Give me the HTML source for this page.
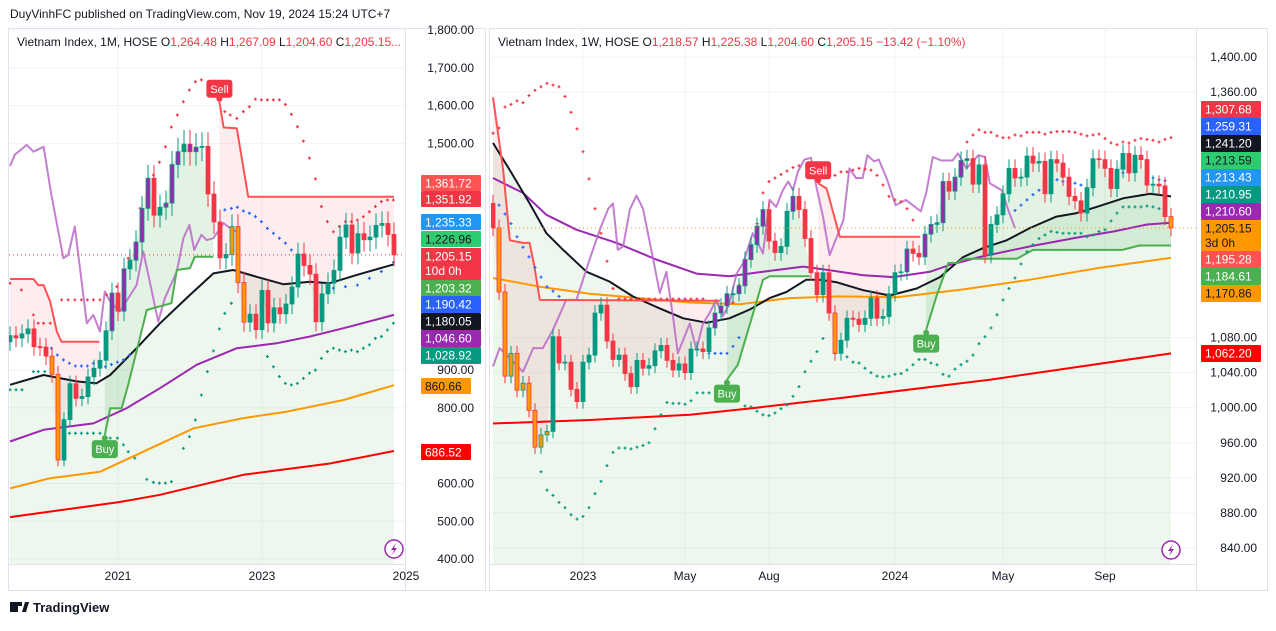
<!DOCTYPE html>
<html><head><meta charset="utf-8">
<style>
html,body{margin:0;padding:0;background:#fff;}
body{width:1276px;height:626px;overflow:hidden;font-family:"Liberation Sans",sans-serif;}
svg text{font-family:"Liberation Sans",sans-serif;}
</style></head>
<body>
<svg id="c" width="1276" height="626" viewBox="0 0 1276 626" xmlns="http://www.w3.org/2000/svg">
<defs>
<clipPath id="clipL"><rect x="9" y="29" width="396" height="535"/></clipPath>
<clipPath id="clipR"><rect x="491" y="29" width="705" height="535"/></clipPath>
</defs>
<rect x="0" y="0" width="1276" height="626" fill="#fff"/>
<text x="10" y="18" font-size="12" fill="#131722">DuyVinhFC published on TradingView.com, Nov 19, 2024 15:24 UTC+7</text>
<rect x="8.5" y="28.5" width="477" height="562" fill="none" stroke="#e0e3eb"/>
<rect x="489.5" y="28.5" width="778" height="562" fill="none" stroke="#e0e3eb"/>
<line x1="405.5" y1="29" x2="405.5" y2="590" stroke="#e0e3eb"/>
<line x1="1196.5" y1="29" x2="1196.5" y2="590" stroke="#e0e3eb"/>
<line x1="9" y1="564.5" x2="405" y2="564.5" stroke="#e0e3eb"/>
<line x1="490" y1="564.5" x2="1196" y2="564.5" stroke="#e0e3eb"/>
<g id="gL" clip-path="url(#clipL)"></g>
<g id="gR" clip-path="url(#clipR)"></g>
<g id="axes"></g>
<text x="17" y="46" font-size="12" fill="#131722">Vietnam Index, 1M, HOSE <tspan fill="#131722">O</tspan><tspan fill="#f23645">1,264.48</tspan> <tspan>H</tspan><tspan fill="#f23645">1,267.09</tspan> <tspan>L</tspan><tspan fill="#f23645">1,204.60</tspan> <tspan>C</tspan><tspan fill="#f23645">1,205.15...</tspan></text>
<text x="498" y="46" font-size="12" fill="#131722">Vietnam Index, 1W, HOSE <tspan>O</tspan><tspan fill="#f23645">1,218.57</tspan> <tspan>H</tspan><tspan fill="#f23645">1,225.38</tspan> <tspan>L</tspan><tspan fill="#f23645">1,204.60</tspan> <tspan>C</tspan><tspan fill="#f23645">1,205.15 −13.42 (−1.10%)</tspan></text>
<g>
<rect x="10" y="602" width="8" height="10" fill="#131722"/><rect x="18" y="602" width="4" height="4" fill="#131722"/><polygon points="22,612 25,602 29,602 26,612" fill="#131722"/>
<text x="33" y="612" font-size="13" font-weight="bold" fill="#131722">TradingView</text>
</g>
</svg>
<script>
// ===== LEFT (monthly) data =====
const leftFirstOpen = 975;
const leftCloses = [991,985,996,1009,962,961,937,889,662,769,864,825,830,882,905,926,1004,1104,1056,1168,1191,1239,1328,1408,1310,1331,1342,1444,1478,1498,1478,1490,1492,1366,1292,1197,1206,1280,1132,1027,1048,1007,1111,1025,1065,1049,1075,1120,1207,1177,1154,1028,1102,1130,1164,1252,1284,1210,1261,1245,1252,1283,1288,1259,1205];
const leftCodes = ".......oo........p.p.ppp..ppp.pp.....ooo.........................";
const leftTicks = [1800,1700,1600,1500,900,800,600,500,400];
const leftTickLabels = ["1,800.00","1,700.00","1,600.00","1,500.00","900.00","800.00","600.00","500.00","400.00"];
const leftTimeIdx = [18,42,66];
const leftTimeLabels = ["2021","2023","2025"];
const leftBlack = [[0,861],[5.6,887],[11.1,870],[14.4,865],[16.7,887],[21.1,958],[25,1024],[30,1099],[33.9,1156],[37.2,1165],[41.1,1147],[45.6,1127],[50,1134],[53.3,1130],[57.8,1152],[64,1180]];
const leftPurple = [[0,711],[5.6,742],[13.9,759],[19.4,799],[25,852],[31.1,914],[37.8,958],[44.4,971],[50,989],[55.6,1011],[64,1046]];
const leftOrange = [[0,587],[6.7,614],[15,631],[22.2,684],[30.6,746],[38.9,773],[46.1,790],[55.6,821],[64,860]];
const leftRed = [[0,511],[18.3,551],[25,570],[38.9,623],[53.3,653],[64,686]];
const leftLilac = [[0,1440],[0.8,1470],[2.8,1496],[3.9,1478],[5.6,1491],[6.9,1363],[8.9,1196],[9.7,1205],[10.8,1280],[12.8,1024],[13.9,1046],[15,1002],[15.8,1108],[16.7,1081],[18.3,1055],[21.1,1125],[22.2,1214],[23.3,1134],[24.7,1028],[25.8,1090],[27.8,1161],[28.9,1249],[29.9,1284],[30.7,1218],[31.9,1258],[32.8,1244],[33.9,1249],[35.6,1289],[36.7,1275],[37.8,1266]];
const leftStopRed1 = [[0,1141],[3.9,1141],[4.7,1125],[5.6,1125],[6.7,1081],[7.8,1002],[8.6,975],[14.9,975]];
const leftStopGreen1 = [[15.8,728],[16.7,799],[18.6,799],[19.7,861],[22.8,1059],[26.9,1077],[27.8,1165],[30,1170],[30.8,1200],[33.9,1200]];
const leftStopRed2 = [[34.9,1610],[35.6,1542],[37.8,1540],[39.7,1359],[64,1359]];
const leftSarUp = [[0,1130],[1.9,1112],[3.9,1046],[4.7,1024],[5.6,1024],[6.7,1024],[8.6,1086],[9.7,1086],[10.8,1086],[11.9,1086],[12.9,1086],[13.9,1086],[15,1086],[16.1,1099],[17.8,1121],[19.7,1196],[21.7,1328],[23.9,1416],[24.9,1450],[25.9,1491],[26.9,1543],[27.9,1575],[28.9,1610],[29.9,1641],[30.9,1663],[31.9,1668],[35.8,1584],[36.7,1575],[37.8,1566],[38.9,1584],[39.9,1597],[40.9,1617],[41.9,1615],[42.9,1615],[43.9,1615],[44.9,1615],[45.9,1603],[46.9,1577],[47.9,1544],[48.9,1506],[49.9,1461],[50.9,1406],[51.9,1333],[52.9,1293],[53.9,1266],[54.9,1280],[55.9,1293],[56.9,1293],[57.9,1297],[58.9,1306],[59.9,1319],[60.9,1333],[61.9,1346],[62.9,1350],[63.9,1350]];
const leftSarDown = [[0,848],[1,848],[2,848],[3.9,896],[4.7,896],[5.8,896],[9.9,733],[10.9,733],[11.9,733],[12.9,733],[13.9,733],[15,733],[16.7,720],[17.9,720],[18.9,702],[19.7,684],[20.8,667],[22.8,611],[23.9,603],[24.9,601],[25.9,601],[26.9,605],[28.9,693],[29.9,724],[30.9,768],[31.9,834],[32.9,896],[33.9,951],[34.9,1009],[35.8,1050],[36.9,1077],[42.9,936],[43.9,909],[44.9,883],[45.9,865],[46.9,861],[47.9,865],[48.9,878],[49.9,892],[50.9,900],[51.9,931],[52.9,949],[53.9,958],[54.9,953],[55.9,949],[56.9,953],[57.9,949],[58.9,958],[59.9,967],[60.9,984],[61.9,989],[62.9,1006],[63.9,1024]];
const leftSarBlue = [[6.9,958],[7.9,940],[8.9,927],[9.9,918],[10.9,911],[11.9,911],[12.9,911],[13.9,918],[14.9,909],[15.9,909],[16.9,915],[17.9,921],[18.9,927],[19.9,940],[35.8,1324],[36.9,1328],[37.9,1331],[38.9,1321],[39.9,1315],[40.9,1306],[41.9,1293],[42.9,1275],[43.9,1262],[44.9,1249],[45.9,1236],[46.9,1218],[53.9,1117],[55.9,1121],[57.9,1125],[59.9,1143],[61.9,1161],[63.9,1185]];

// ===== RIGHT (weekly) data =====
const rightFirstOpen = 1233;
const rightCloses = [1205,1132,1036,1062,1020,1028,997,955,969,973,1081,1051,1052,1021,1007,1052,1060,1108,1117,1076,1055,1060,1039,1024,1054,1045,1048,1065,1071,1054,1043,1050,1040,1067,1067,1064,1091,1108,1116,1130,1130,1139,1169,1186,1207,1226,1190,1177,1184,1224,1241,1226,1193,1154,1129,1154,1108,1062,1077,1102,1101,1095,1102,1125,1102,1104,1130,1154,1155,1181,1176,1172,1198,1209,1211,1258,1247,1263,1282,1284,1255,1277,1174,1209,1220,1244,1273,1262,1263,1287,1279,1281,1244,1283,1279,1263,1241,1236,1222,1251,1284,1283,1273,1250,1272,1290,1268,1288,1283,1254,1255,1253,1218,1205];
const rightCodes = ".ooooooooo...........................ppppppppp....p......o...........p..pp.p.ppp.................................o";
const rightTicks = [1400,1360,1080,1040,1000,960,920,880,840];
const rightTickLabels = ["1,400.00","1,360.00","1,080.00","1,040.00","1,000.00","960.00","920.00","880.00","840.00"];
const rightTimeIdx = [15,32,46,67,85,102];
const rightTimeLabels = ["2023","May","Aug","2024","May","Sep"];
const rightBlack = [[0,1302],[2.8,1271],[6.1,1233],[8.9,1199],[11.7,1180],[15.6,1155],[19.4,1144],[23.3,1127],[27.2,1115],[31.7,1102],[35.6,1097],[39.4,1102],[42.8,1112],[46.1,1125],[48.9,1132],[52.2,1146],[54.4,1146],[57.3,1143],[61.7,1134],[66.1,1128],[70.6,1136],[74.5,1149],[78.4,1172],[81.7,1182],[85.6,1191],[89.5,1205],[93.9,1218],[97.3,1222],[100.6,1229],[105.1,1239],[109.5,1244],[113,1241]];
const rightPurple = [[0,1262],[5,1245],[8.9,1220],[13.9,1203],[20.6,1188],[27.2,1169],[33.9,1153],[39.4,1150],[45,1155],[51.7,1161],[56,1157],[61.7,1151],[66.7,1149],[72.8,1155],[76.2,1163],[81.2,1172],[89.5,1184],[97.3,1194],[103.4,1201],[109,1209],[113,1211]];
const rightOrange = [[0,1148],[7.8,1138],[16.1,1130],[24.4,1125],[32.8,1120],[41.1,1118],[49.4,1125],[57.8,1127],[67.3,1126],[78.4,1135],[89.5,1146],[100.6,1159],[113,1171]];
const rightRed = [[0,982],[16.1,986],[32.8,992],[43.9,1000],[57.8,1011],[82.8,1032],[113,1062]];
const rightLilac = [[0,1047],[1.1,1068],[5,1041],[6.7,1068],[8.3,1068],[10,1089],[12.2,1123],[13.9,1123],[16.1,1169],[17.8,1203],[19.2,1227],[20,1233],[20.8,1180],[21.7,1184],[22.8,1226],[23.9,1242],[25,1227],[26.7,1169],[27.8,1131],[28.9,1155],[30,1104],[30.8,1062],[32.8,1096],[33.9,1066],[35,1096],[36.1,1108],[37.2,1123],[38.3,1104],[39.4,1119],[40.6,1153],[41.7,1165],[43.3,1199],[45,1176],[46.1,1237],[47.2,1229],[48.3,1248],[49.2,1258],[50,1248],[50.8,1269],[51.9,1283],[53,1285],[53.9,1252],[55,1218],[56.1,1174],[58.4,1214],[59.4,1273],[60.5,1262],[61.6,1262],[62.4,1288],[63.5,1281],[64.3,1283],[65.7,1260],[67.1,1231],[68.8,1237],[71.3,1224],[72.2,1245],[73.3,1286],[74.7,1282],[76.6,1282],[77.5,1290],[78.9,1273],[80.9,1288],[82,1286],[82.8,1256],[84.8,1248],[85.9,1225],[87,1205]];
const rightStopRed1 = [[0,1354],[1.7,1271],[2.8,1191],[5,1188],[6.1,1188],[6.9,1161],[7.8,1123],[37.8,1122]];
const rightStopGreen1 = [[39,1032],[40.8,1049],[42.2,1081],[45,1146],[46.1,1150],[52.8,1150]];
const rightStopRed2 = [[54.2,1256],[55.6,1250],[57.8,1195],[71.2,1195]];
const rightStopGreen2 = [[72.2,1089],[73.9,1127],[75.9,1165],[77.3,1165],[78.4,1170],[87.3,1170],[90,1180],[104.9,1180],[107.7,1185],[113,1185]];
const rightSarUp = [[0,1313],[1,1319],[2,1343],[3,1346],[4,1350],[5,1348],[6,1356],[7,1362],[8,1366],[9,1370],[10,1368],[11,1366],[12,1355],[13,1337],[14,1318],[15,1292],[16,1261],[17,1227],[18,1199],[19,1167],[20,1136],[21,1124],[22,1124],[23,1124],[24,1124],[25,1124],[26,1124],[27,1124],[28,1124],[29,1124],[30,1124],[31,1124],[32,1124],[33,1124],[34,1124],[35,1124],[40,1120],[41,1140],[42,1160],[43,1185],[44,1210],[45,1245],[46,1258],[47,1262],[48,1266],[49,1270],[50,1274],[51,1276],[57,1265],[58,1269],[59,1269],[60,1271],[61,1273],[62,1272],[63,1271],[64,1265],[65,1254],[66,1241],[67,1237],[68,1235],[69,1227],[70,1214],[79,1303],[80,1311],[81,1317],[82,1314],[83,1314],[84,1310],[85,1308],[86,1308],[87,1311],[88,1310],[89,1314],[90,1314],[91,1314],[92,1312],[93,1314],[94,1315],[95,1315],[96,1315],[97,1314],[98,1312],[99,1310],[100,1311],[101,1312],[102,1307],[103,1302],[104,1300],[105,1303],[106,1302],[107,1305],[108,1307],[109,1306],[110,1305],[111,1303],[112,1306],[113,1308]];
const rightSarDown = [[8,927],[9,906],[10,900],[11,892],[12,886],[13,878],[14,873],[15,876],[16,886],[17,902],[18,916],[19,934],[20,949],[21,954],[22,954],[23,953],[24,955],[25,957],[26,960],[27,976],[28,992],[29,1006],[30,1005],[31,1005],[32,1004],[33,1008],[34,1017],[35,1017],[36,1017],[42,1002],[43,1001],[44,996],[45,992],[46,991],[47,994],[48,999],[49,1003],[50,1013],[51,1024],[52,1041],[53,1053],[54,1064],[55,1079],[57,1062],[59,1058],[60,1052],[61,1051],[62,1045],[63,1040],[64,1036],[65,1035],[66,1036],[67,1038],[68,1039],[69,1043],[70,1049],[71,1055],[72,1055],[73,1051],[74,1049],[75,1038],[76,1036],[77,1044],[78,1049],[79,1053],[80,1060],[81,1073],[82,1081],[83,1091],[84,1106],[85,1123],[86,1136],[87,1148],[88,1164],[89,1178],[90,1186],[91,1193],[92,1197],[93,1201],[94,1200],[95,1199],[96,1199],[97,1199],[98,1199],[99,1195],[100,1197],[101,1201],[102,1203],[103,1213],[104,1222],[105,1229],[106,1229],[107,1229],[108,1229],[109,1230],[110,1229],[111,1227],[112,1226]];
const rightSarBlue = [[1,1231],[2,1221],[3,1210],[4,1195],[5,1183],[6,1172],[7,1160],[8,1149],[9,1138],[10,1133],[11,1127],[36,1062],[37,1062],[38,1062],[39,1062],[40,1070],[41,1080],[87,1225],[88,1231],[89,1237],[90,1243],[91,1248],[92,1254],[93,1258],[94,1260],[95,1258],[96,1258],[97,1256],[98,1254],[103,1270],[104,1267],[105,1268],[106,1268],[109,1263],[110,1262],[111,1260],[112,1259]];

// ===== scales =====
const NS = "http://www.w3.org/2000/svg";
const L = {x:i=>10+i*6, y:p=>30+(1800-p)*0.3779, bottom:564};
const R = {x:i=>493+i*6, y:p=>57+(1400-p)*0.8768, bottom:564};
function mk(tag, parent){const e=document.createElementNS(NS,tag);parent.appendChild(e);return e;}
function pts(S, arr){return arr.map(a=>S.x(a[0]).toFixed(1)+","+S.y(a[1]).toFixed(1)).join(" ");}
function closeAt(closes,i){const a=Math.max(0,Math.min(closes.length-1,Math.floor(i))),b=Math.min(closes.length-1,a+1),t=i-a;return closes[a]*(1-t)+closes[b]*t;}

function line(g,S,arr,color,w,name,op){
  const e=mk("polyline",g);
  e.setAttribute("points",pts(S,arr));
  e.setAttribute("fill","none");e.setAttribute("stroke",color);e.setAttribute("stroke-width",w);
  e.setAttribute("stroke-linejoin","round");
  if(op) e.setAttribute("opacity",op);
  
  
}
function bandFill(g,S,arr,closes,color,name){
  const s=arr[0][0], en=arr[arr.length-1][0];
  let p=pts(S,arr);
  const back=[];
  back.push([en,closeAt(closes,en)]);
  for(let i=Math.floor(en);i>=Math.ceil(s);i--) back.push([i,closes[i]]);
  back.push([s,closeAt(closes,s)]);
  const e=mk("polygon",g);
  e.setAttribute("points",p+" "+pts(S,back));
  e.setAttribute("fill",color);
  
  
}
function underFill(g,S,arr,color,name){
  const first=arr[0][0], last=arr[arr.length-1][0];
  const e=mk("polygon",g);
  e.setAttribute("points",pts(S,arr)+" "+S.x(last)+","+S.bottom+" "+S.x(first)+","+S.bottom);
  e.setAttribute("fill",color);
  
  
}
function dots(g,S,arr,color,name){
  const grp=mk("g",g);
  
  
  arr.forEach(a=>{
    const x=S.x(a[0]),y=S.y(a[1]);
    const e=mk("path",grp);
    e.setAttribute("d",`M${x-1.5},${y}h3M${x},${y-1.5}v3`);
    e.setAttribute("stroke",color);e.setAttribute("stroke-width","1.2");
    
    
  });
}
function candles(g,S,closes,firstOpen,codes,wickPct,name){
  const grp=mk("g",g);
  
  
  closes.forEach((c,i)=>{
    const o=i===0?firstOpen:closes[i-1];
    const up=c>=o;
    const hi=Math.max(o,c)*(1+wickPct), lo=Math.min(o,c)*(1-wickPct);
    const col=up?"#089981":"#f23645";
    const code=codes[i];
    const fill=code==="p"?"#9c27b0":code==="o"?"#ff9800":col;
    const x=S.x(i);
    const w=mk("line",grp);
    w.setAttribute("x1",x);w.setAttribute("x2",x);w.setAttribute("y1",S.y(hi));w.setAttribute("y2",S.y(lo));
    w.setAttribute("stroke",col);w.setAttribute("stroke-width","1");
    
    
    const b=mk("rect",grp);
    const y1=S.y(Math.max(o,c)), y2=S.y(Math.min(o,c));
    b.setAttribute("x",x-2);b.setAttribute("width",4);b.setAttribute("y",y1);b.setAttribute("height",Math.max(1,y2-y1));
    b.setAttribute("fill",fill);b.setAttribute("stroke",col);b.setAttribute("stroke-width","0.8");
    
    
  });
}
function grid(g,S,ticks,timeIdx,x0,x1){
  ticks.forEach(t=>{const e=mk("line",g);e.setAttribute("x1",x0);e.setAttribute("x2",x1);e.setAttribute("y1",S.y(t));e.setAttribute("y2",S.y(t));e.setAttribute("stroke","#f0f3fa");
    
    });
  timeIdx.forEach(t=>{const e=mk("line",g);e.setAttribute("x1",S.x(t));e.setAttribute("x2",S.x(t));e.setAttribute("y1",29);e.setAttribute("y2",564);e.setAttribute("stroke","#f0f3fa");
    
    });
}
function signal(g,S,pt,txt,color,above,name){
  const x=S.x(pt[0]),y=S.y(pt[1]);
  const grp=mk("g",g);
  
  
  const ci=mk("circle",grp);ci.setAttribute("cx",x);ci.setAttribute("cy",above?y-3:y+3);ci.setAttribute("r",3);ci.setAttribute("fill",color);
  const ry=above?y-22:y+5;
  const r=mk("rect",grp);r.setAttribute("x",x-13);r.setAttribute("y",ry);r.setAttribute("width",26);r.setAttribute("height",18);r.setAttribute("rx",3);r.setAttribute("fill",color);
  const t=mk("text",grp);t.setAttribute("x",x);t.setAttribute("y",ry+13);t.setAttribute("text-anchor","middle");t.setAttribute("font-size","11");t.setAttribute("fill","#fff");t.textContent=txt;
}

function drawPanel(g,S,cfg){
  grid(g,S,cfg.ticks,cfg.timeIdx,cfg.x0,cfg.x1);
  underFill(g,S,cfg.black,"rgba(76,175,80,0.10)","trend-area-fill");
  cfg.reds.forEach(a=>bandFill(g,S,a,cfg.closes,"rgba(242,54,69,0.09)","stop-red-fill"));
  cfg.greens.forEach(a=>bandFill(g,S,a,cfg.closes,"rgba(76,175,80,0.16)","stop-green-fill"));
  line(g,S,cfg.red,"#ff0000",2,"ma-red");
  line(g,S,cfg.orange,"#ff9800",2,"ma-orange");
  line(g,S,cfg.purple,"#9c27b0",2,"ma-purple");
  line(g,S,cfg.black,"#131722",2,"ma-black");
  line(g,S,cfg.lilac,"#ba68c8",2,"rsi-overlay",0.85);
  cfg.reds.forEach(a=>line(g,S,a,"#ff5252",2,"trailing-stop-red"));
  cfg.greens.forEach(a=>line(g,S,a,"#4caf50",2,"trailing-stop-green"));
  dots(g,S,cfg.sarUp,"#f23645","sar-upper");
  dots(g,S,cfg.sarDown,"#089981","sar-lower");
  dots(g,S,cfg.sarBlue,"#2962ff","sar-blue");
  candles(g,S,cfg.closes,cfg.firstOpen,cfg.codes,cfg.wick,"candles");
  const last=cfg.closes[cfg.closes.length-1];
  const pl=mk("line",g);pl.setAttribute("x1",cfg.x0);pl.setAttribute("x2",cfg.x1);pl.setAttribute("y1",S.y(last));pl.setAttribute("y2",S.y(last));
  pl.setAttribute("stroke",cfg.lastColor);pl.setAttribute("stroke-dasharray","1,3");
  
  
}

drawPanel(document.getElementById("gL"),L,{ticks:leftTicks,timeIdx:leftTimeIdx,x0:9,x1:405,closes:leftCloses,firstOpen:leftFirstOpen,codes:leftCodes,wick:0.025,
  black:leftBlack,purple:leftPurple,orange:leftOrange,red:leftRed,lilac:leftLilac,reds:[leftStopRed1,leftStopRed2],greens:[leftStopGreen1],
  sarUp:leftSarUp,sarDown:leftSarDown,sarBlue:leftSarBlue,lastColor:"#f23645"});
drawPanel(document.getElementById("gR"),R,{ticks:rightTicks,timeIdx:rightTimeIdx,x0:491,x1:1196,closes:rightCloses,firstOpen:rightFirstOpen,codes:rightCodes,wick:0.008,
  black:rightBlack,purple:rightPurple,orange:rightOrange,red:rightRed,lilac:rightLilac,reds:[rightStopRed1,rightStopRed2],greens:[rightStopGreen1,rightStopGreen2],
  sarUp:rightSarUp,sarDown:rightSarDown,sarBlue:rightSarBlue,lastColor:"#ff9800"});

const gL=document.getElementById("gL"), gR=document.getElementById("gR");
signal(gL,L,leftStopRed2[0],"Sell","#f23645",true,"sell-signal");
signal(gL,L,leftStopGreen1[0],"Buy","#4caf50",false,"buy-signal");
signal(gR,R,rightStopRed2[0],"Sell","#f23645",true,"sell-signal");
signal(gR,R,rightStopGreen1[0],"Buy","#4caf50",false,"buy-signal");
signal(gR,R,rightStopGreen2[0],"Buy","#4caf50",false,"buy-signal-2");

// ===== axes =====
const ax=document.getElementById("axes");
function txt(x,y,s,col,anchor,name,size){const t=mk("text",ax);t.setAttribute("x",x);t.setAttribute("y",y);t.setAttribute("font-size",size||12);t.setAttribute("fill",col);if(anchor)t.setAttribute("text-anchor",anchor);t.textContent=s;
  
  return t;}
leftTicks.forEach((t,i)=>txt(474,L.y(t)+4,leftTickLabels[i],"#131722","end","price-tick"));
rightTicks.forEach((t,i)=>txt(1257,R.y(t)+4,rightTickLabels[i],"#131722","end","price-tick"));
leftTimeIdx.forEach((t,i)=>txt(L.x(t),580,leftTimeLabels[i],"#131722","middle","time-tick"));
rightTimeIdx.forEach((t,i)=>txt(R.x(t),580,rightTimeLabels[i],"#131722","middle","time-tick"));

const leftBadgeText = ["1,361.72","1,351.92","1,235.33","1,226.96","1,205.15","1,203.32","1,190.42","1,180.05","1,046.60","1,028.92","860.66","686.52"];
const leftBadgeTop = [175,191,214,231,248,280,296,313,330,347,378,444];
const leftBadgeH = [16,16,16,16,32,16,17,17,17,17,16,16];
const leftBadgeBg = ["#ff5252","#f23645","#2196f3","#2ecc71","#f23645","#4caf50","#2962ff","#131722","#9c27b0","#089981","#ff9800","#ff0000"];
const leftBadgeFg = ["#fff","#fff","#fff","#131722","#fff","#fff","#fff","#fff","#fff","#fff","#131722","#fff"];
const rightBadgeText = ["1,307.68","1,259.31","1,241.20","1,213.59","1,213.43","1,210.95","1,210.60","1,205.15","1,195.28","1,184.61","1,170.86","1,062.20"];
const rightBadgeTop = [101,118,135,152,169,186,203,220,251,268,285,345];
const rightBadgeH = [17,17,17,17,17,17,17,31,17,17,17,17];
const rightBadgeBg = ["#f23645","#2962ff","#131722","#2ecc71","#2196f3","#089981","#9c27b0","#ff9800","#ff5252","#4caf50","#ff9800","#ff0000"];
const rightBadgeFg = ["#fff","#fff","#fff","#131722","#fff","#fff","#fff","#131722","#fff","#fff","#131722","#fff"];
function badges(x,w,texts,tops,hs,bgs,fgs,subIdx,sub){
  texts.forEach((s,i)=>{
    const r=mk("rect",ax);r.setAttribute("x",x);r.setAttribute("y",tops[i]);r.setAttribute("width",(s.length<7)?w-10:w);r.setAttribute("height",hs[i]);r.setAttribute("fill",bgs[i]);r.setAttribute("rx",1);
    
    
    txt(x+4,tops[i]+12.5,s,fgs[i],null,"price-badge-text");
    if(i===subIdx) txt(x+4,tops[i]+27,sub,fgs[i],null,"countdown-text");
  });
}
badges(421,60,leftBadgeText,leftBadgeTop,leftBadgeH,leftBadgeBg,leftBadgeFg,4,"10d 0h");
badges(1201,60,rightBadgeText,rightBadgeTop,rightBadgeH,rightBadgeBg,rightBadgeFg,7,"3d 0h");

function bolt(cx,cy,name){
  const g=mk("g",ax);
  
  
  const c=mk("circle",g);c.setAttribute("cx",cx);c.setAttribute("cy",cy);c.setAttribute("r",9);c.setAttribute("fill","#fff");c.setAttribute("stroke","#9c27b0");c.setAttribute("stroke-width","1.5");
  const p=mk("polygon",g);p.setAttribute("points",`${cx+2},${cy-6} ${cx-3},${cy+1} ${cx},${cy+1} ${cx-2},${cy+6} ${cx+3},${cy-1} ${cx},${cy-1}`);p.setAttribute("fill","#9c27b0");
}
bolt(394,549,"left-alert-button");
bolt(1171,550,"right-alert-button");
</script>
</body></html>
